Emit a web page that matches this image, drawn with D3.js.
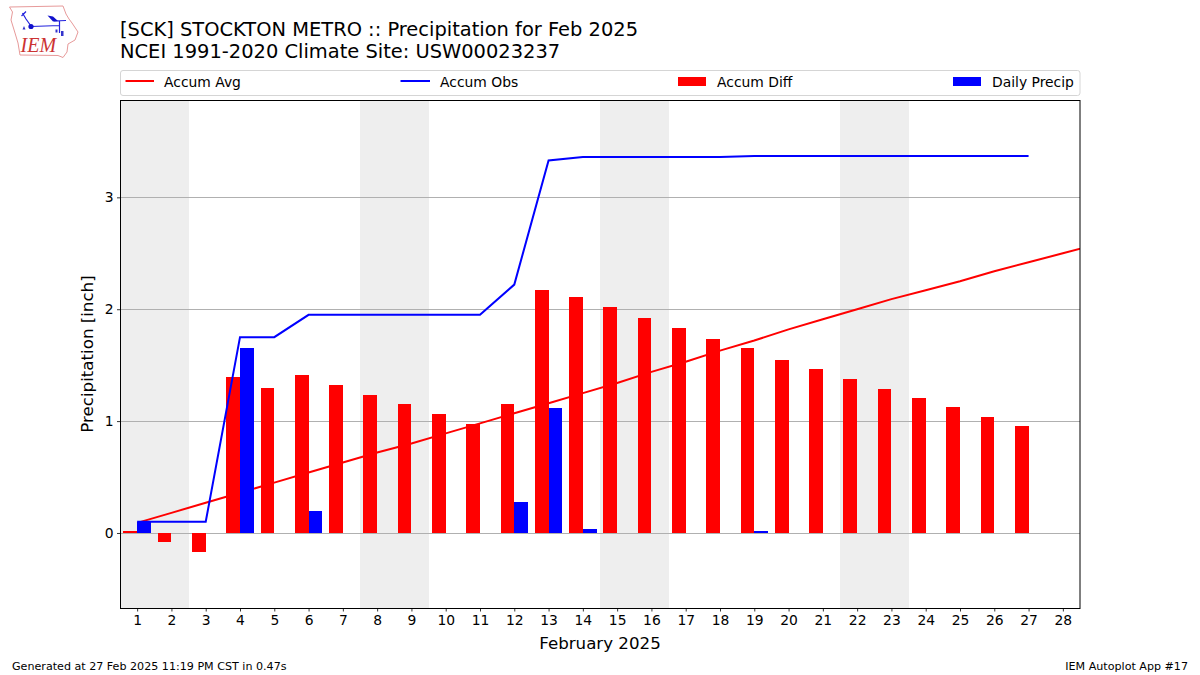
<!DOCTYPE html>
<html>
<head>
<meta charset="utf-8">
<script src="https://cdn.jsdelivr.net/npm/d3@7"></script>
<style>
html,body{margin:0;padding:0;background:#fff}
svg{display:block}
text{font-family:"DejaVu Sans",sans-serif;fill:#000}
</style>
</head>
<body>
<svg id="c" width="1200" height="675"></svg>
<script>
const days = d3.range(1, 29);
const avgDays = d3.range(1, 30);
const accumAvg = [0.09,0.18,0.27,0.36,0.45,0.54,0.63,0.72,0.80,0.89,0.98,1.07,1.16,1.25,1.34,1.44,1.53,1.63,1.72,1.82,1.91,2.00,2.09,2.17,2.25,2.34,2.42,2.50,2.58];
const obsDays = d3.range(1, 28);
const accumObs = [0.10,0.10,0.10,1.75,1.75,1.95,1.95,1.95,1.95,1.95,1.95,2.22,3.33,3.36,3.36,3.36,3.36,3.36,3.37,3.37,3.37,3.37,3.37,3.37,3.37,3.37,3.37];
const accumDiff = [0.02,-0.08,-0.17,1.39,1.30,1.41,1.32,1.23,1.15,1.06,0.97,1.15,2.17,2.11,2.02,1.92,1.83,1.73,1.65,1.55,1.465,1.375,1.285,1.205,1.125,1.035,0.955];
const dailyPrecip = [0.10,0,0,1.65,0,0.20,0,0,0,0,0,0.275,1.12,0.035,0,0,0,0,0.02,0,0,0,0,0,0,0,0];
const weekends = [[0.5,2.5],[7.5,9.5],[14.5,16.5],[21.5,23.5]];
const yTicks = [0,1,2,3];
const legendLabels = ["Accum Avg","Accum Obs","Accum Diff","Daily Precip"];
const titleLines = ["[SCK] STOCKTON METRO :: Precipitation for Feb 2025","NCEI 1991-2020 Climate Site: USW00023237"];

const svg = d3.select("#c");
const L = 120, R = 1080, T = 100, B = 608;
const x = d3.scaleLinear().domain([0.5,28.5]).range([L,R]);
const y = d3.scaleLinear().domain([-0.6705,3.87]).range([B,T]);
const barW = 0.4;

// logo
const logo = svg.append("g");
logo.append("path").attr("fill","none").attr("stroke","#e79a9a").attr("stroke-width",1)
  .attr("d","M9.5,7 L63,6 L66,14 L69,19 L72,23 L78,32 L75,40 L68,44 L67,52 L63,57.5 L58,55.5 L20,55 L18,43 L15,33 L11,20 L12.5,12 Z");
logo.append("text").attr("x",20.5).attr("y",52).attr("font-size",20).attr("font-style","italic")
  .style("font-family","'Liberation Serif',serif").style("fill","#cc3333").text("IEM");
logo.append("path").attr("fill","none").attr("stroke","#2222dd").attr("stroke-width",1.2)
  .attr("d","M31,26.5 L60,25.5 M59.5,21 L59.5,33 M31,26 L26,19 L22.5,13 M21.5,16 L26,11.5 M54,21 L66,20.5");
logo.append("circle").attr("cx",31).attr("cy",26.5).attr("r",2.6).attr("fill","#1111cc");
logo.append("path").attr("fill","#1111cc").attr("d","M47.5,15.5 L53,16.5 L58,21 L53,21.5 Z");
logo.append("path").attr("fill","#3333cc").attr("d","M22.5,29.5 L24,26 L25.5,29.5 Z M55.5,29.5 h2 v3 h-2 Z M61,31 h2.5 v5 h-2.5 Z");

// titles
svg.selectAll("text.title").data(titleLines).join("text").attr("class","title")
  .attr("x",120).attr("y",(d,i)=>35.5+i*22).attr("font-size",19.45).text(d=>d);

// legend frame
svg.append("rect").attr("x",120.5).attr("y",70.5).attr("width",959.5).attr("height",25).attr("rx",2.5)
  .attr("fill","#fff").attr("stroke","#d5d5d5").attr("stroke-width",1);
const lineX = [[125.5,154],[400.5,430]];
[["red",0],["blue",1]].forEach(([c,i])=>{
  svg.append("line").attr("x1",lineX[i][0]).attr("x2",lineX[i][1]).attr("y1",81).attr("y2",81)
    .attr("stroke",c).attr("stroke-width",2);
});
[["red",678],["blue",953]].forEach(([c,px])=>{
  svg.append("rect").attr("x",px).attr("y",77).attr("width",28).attr("height",9).attr("fill",c).attr("shape-rendering","crispEdges");
});
[164,440,717,992].forEach((px,i)=>{
  svg.append("text").attr("x",px).attr("y",86.5).attr("font-size",13.89).text(legendLabels[i]);
});

// plot
const defs = svg.append("defs");
defs.append("clipPath").attr("id","clip").append("rect").attr("x",L).attr("y",T).attr("width",R-L).attr("height",B-T);
const plot = svg.append("g").attr("clip-path","url(#clip)");

plot.selectAll("rect.wk").data(weekends).join("rect").attr("class","wk")
  .attr("x",d=>x(d[0])).attr("width",d=>x(d[1])-x(d[0])).attr("y",T).attr("height",B-T).attr("fill","#eeeeee").attr("shape-rendering","crispEdges");

plot.selectAll("line.grid").data(yTicks).join("line").attr("class","grid")
  .attr("x1",L).attr("x2",R).attr("y1",d=>Math.round(y(d))+0.5).attr("y2",d=>Math.round(y(d))+0.5)
  .attr("stroke","#b0b0b0").attr("stroke-width",1);

const line = d3.line().x(d=>x(d[0])).y(d=>y(d[1]));
plot.append("path").datum(avgDays.map((d,i)=>[d,accumAvg[i]])).attr("d",line)
  .attr("fill","none").attr("stroke","red").attr("stroke-width",2);

plot.selectAll("rect.diff").data(accumDiff).join("rect").attr("class","diff")
  .attr("x",(d,i)=>x(obsDays[i]-barW)).attr("width",x(barW)-x(0))
  .attr("y",d=>y(Math.max(d,0))).attr("height",d=>Math.abs(y(d)-y(0))).attr("fill","red").attr("shape-rendering","crispEdges");

plot.selectAll("rect.daily").data(dailyPrecip).join("rect").attr("class","daily")
  .attr("x",(d,i)=>x(obsDays[i])).attr("width",x(barW)-x(0))
  .attr("y",d=>y(d)).attr("height",d=>y(0)-y(d)).attr("fill","blue").attr("shape-rendering","crispEdges");

plot.append("path").datum(obsDays.map((d,i)=>[d,accumObs[i]])).attr("d",line)
  .attr("fill","none").attr("stroke","blue").attr("stroke-width",2);

// axes
const xAxis = svg.append("g").attr("transform",`translate(0,${B})`)
  .call(d3.axisBottom(x).tickValues(days).tickFormat(d3.format("d")).tickSize(3.5).tickPadding(3.5));
const yAxis = svg.append("g").attr("transform",`translate(${L+0.5},0)`)
  .call(d3.axisLeft(y).tickValues(yTicks).tickFormat(d3.format("d")).tickSize(3.5).tickPadding(3.5));
[xAxis,yAxis].forEach(a=>{
  a.selectAll("text").attr("font-size",13.89).style("font-family","'DejaVu Sans',sans-serif");
  a.selectAll("line").attr("stroke","#000").attr("stroke-width",0.8);
  a.select(".domain").remove();
});
svg.append("rect").attr("x",L+0.5).attr("y",T+0.5).attr("width",R-L-0.5).attr("height",B-T)
  .attr("fill","none").attr("stroke","#000").attr("stroke-width",1);

// labels
svg.append("text").attr("x",600).attr("y",649).attr("text-anchor","middle").attr("font-size",16.67).text("February 2025");
svg.append("text").attr("transform","translate(92.5,354) rotate(-90)").attr("text-anchor","middle").attr("font-size",16.67).text("Precipitation [inch]");
svg.append("text").attr("x",12).attr("y",670).attr("font-size",11.11).text("Generated at 27 Feb 2025 11:19 PM CST in 0.47s");
svg.append("text").attr("x",1188).attr("y",670).attr("text-anchor","end").attr("font-size",11.11).text("IEM Autoplot App #17");
</script>
</body>
</html>
